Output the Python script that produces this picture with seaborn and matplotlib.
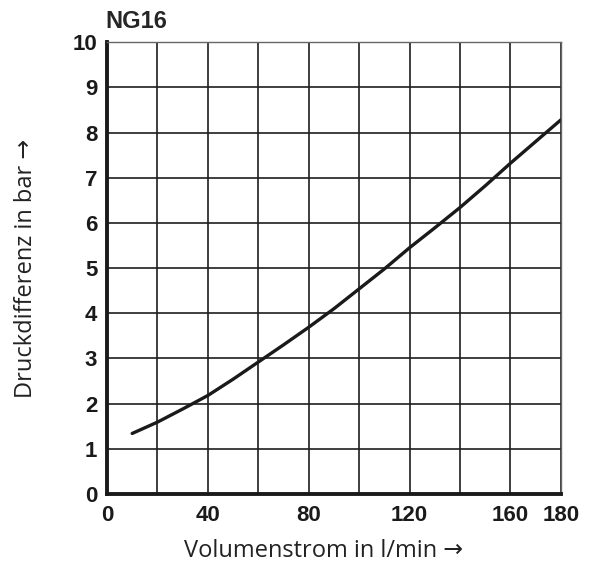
import pandas as pd
import matplotlib.pyplot as plt
import seaborn as sns

# Values
flow = [10, 20, 30, 40, 50, 60, 70, 80, 90, 100, 110, 120, 130, 140, 150, 160, 170, 180]
dp = [1.34, 1.59, 1.88, 2.18, 2.54, 2.92, 3.30, 3.69, 4.10, 4.54, 4.98, 5.45, 5.89, 6.34, 6.82, 7.32, 7.80, 8.28]

x_ticks = [0, 20, 40, 60, 80, 100, 120, 140, 160, 180]
x_labels = ["0", "", "40", "", "80", "", "120", "", "160", "180"]
y_ticks = list(range(0, 11))

df = pd.DataFrame({"flow": flow, "dp": dp})

sns.set_style("white")
plt.rcParams["font.family"] = ["Liberation Sans", "DejaVu Sans"]

fig = plt.figure(figsize=(5.91, 5.62), dpi=100)
ax = fig.add_axes([0.181, 0.121, 0.768, 0.804])

sns.lineplot(data=df, x="flow", y="dp", color="#1a1a1a", linewidth=2.4, ax=ax)

ax.set_xlim(0, 180)
ax.set_ylim(0, 10)
ax.set_xticks(x_ticks)
ax.set_xticklabels(x_labels, fontsize=16, fontweight="bold")
ax.set_yticks(y_ticks)
ax.set_yticklabels([str(v) for v in y_ticks], fontsize=16, fontweight="bold")
ax.tick_params(axis="x", length=0, pad=8, colors="#1a1a1a")
ax.tick_params(axis="y", length=0, pad=7, colors="#1a1a1a")

ax.grid(True, color="#1e1e1e", linewidth=1.2)
ax.set_axisbelow(True)

for side in ["top", "right"]:
    ax.spines[side].set_color("#666666")
    ax.spines[side].set_linewidth(1.0)
for side in ["left", "bottom"]:
    ax.spines[side].set_color("#1a1a1a")
    ax.spines[side].set_linewidth(2.8)

ax.set_xlabel("Volumenstrom in l/min →", fontsize=17, family=["Open Sans", "DejaVu Sans"],
              color="#222222")
ax.set_ylabel("Druckdifferenz in bar →", fontsize=17, family=["Open Sans", "DejaVu Sans"],
              color="#222222")
ax.xaxis.set_label_coords(0.478, -0.1)
ax.yaxis.set_label_coords(-0.152, 0.5)

ax.set_title("NG16", loc="left", fontsize=17, fontweight="bold", pad=10, x=-0.004)

fig.savefig("out.png", dpi=100)
